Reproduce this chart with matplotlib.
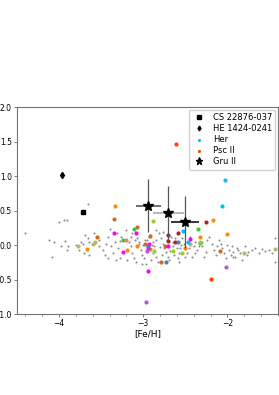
import matplotlib
matplotlib.use("Agg")
import matplotlib.pyplot as plt
from matplotlib.ticker import MultipleLocator

# reference stars
cs_feh, cs_val = [-3.71], [0.48]
he_feh, he_val = [-3.96], [1.02]

# Gru II members with errors
gru_feh = [-2.94, -2.70, -2.50]
gru_val = [0.57, 0.46, 0.33]
gru_feh_err = [0.15, 0.18, 0.165]
gru_val_err = [0.38, 0.39, 0.38]
gru_xerr_colors = ["#555555", "#aaaaaa", "#111111"]

# Her and Psc II
her_feh = [-2.03, -2.06, -2.53, -2.47]
her_val = [0.94, 0.57, 0.20, 0.04]
psc_feh = [-2.61, -2.20]
psc_val = [1.47, -0.49]

# other dwarfs (unlabelled), grouped by colour
other_groups = {
    "darkorange": ([-3.34, -2.17, -2.00, -3.67, -2.33, -3.19, -3.07, -2.92, -2.50],
                   [0.57, 0.36, 0.16, -0.06, 0.12, -0.07, -0.01, -0.06, -0.05]),
    "chocolate": ([-3.35, -3.55, -3.07, -2.92, -2.79, -2.74, -2.98, -2.09],
                  [0.38, 0.11, 0.26, 0.13, -0.25, -0.01, 0.01, -0.09]),
    "firebrick": ([-2.26, -2.70, -2.59, -2.70, -2.62],
                  [0.34, 0.15, 0.17, 0.06, 0.04]),
    "magenta": ([-3.35, -3.09, -3.24, -2.94, -2.93, -2.70, -2.94, -2.45],
                [0.18, 0.17, -0.10, -0.05, 0.02, -0.02, -0.37, 0.09]),
    "mediumorchid": ([-2.97, -2.02, -2.96],
                     [-0.83, -0.32, -0.09]),
    "limegreen": ([-3.11, -3.24, -2.35, -2.32],
                  [0.23, 0.08, 0.23, 0.03]),
    "yellowgreen": ([-2.89, -2.54, -2.87, -2.65, -2.32],
                    [0.35, -0.11, -0.09, -0.09, 0.05]),
    "darkkhaki": ([-3.78, -3.60, -3.57, -2.44, -1.80, -1.44],
                  [-0.02, 0.02, 0.05, 0.02, -0.12, -0.06]),
    "steelblue": ([-2.73, -2.59, -2.94],
                  [-0.24, 0.05, -0.01]),
    "lightcoral": ([-3.20], [0.07]),
}

# halo field stars (grey)
gray_feh = [-4.41, -4.12, -4.06, -4.09, -3.98, -3.93, -3.91, -3.90, -3.94, -4.00,
            -3.91, -3.66, -3.69, -3.66, -3.64, -3.64, -3.70, -3.58, -3.80, -3.76,
            -3.74, -3.72, -3.59, -3.53, -3.52, -3.48, -3.46, -3.44, -3.42, -3.38,
            -3.36, -3.32, -3.30, -3.28, -3.26, -3.34, -3.40, -3.31, -3.20, -3.17,
            -3.15, -3.13, -3.11, -3.09, -3.15, -3.13, -3.07, -3.05, -3.03, -3.01,
            -2.99, -2.97, -2.95, -2.93, -2.89, -2.87, -2.85, -2.83, -2.81, -2.79,
            -2.77, -2.75, -2.73, -2.71, -2.69, -2.67, -2.65, -2.63, -2.59, -2.57,
            -2.56, -2.54, -2.52, -2.50, -2.48, -2.46, -2.44, -2.42, -2.40, -2.38,
            -2.36, -2.34, -2.30, -2.28, -2.26, -2.24, -2.22, -2.18, -2.16, -2.14,
            -2.12, -2.10, -2.08, -2.06, -2.04, -2.02, -2.00, -1.98, -1.96, -1.94,
            -1.93, -1.91, -1.89, -1.87, -1.85, -1.83, -1.79, -1.77, -1.75, -1.71,
            -1.67, -1.63, -1.59, -1.55, -1.51, -1.47, -1.44, -1.43, -2.85, -2.77,
            -2.91, -3.01, -2.65, -3.19, -3.28, -2.57, -2.38, -2.30, -3.42, -1.93,
            -3.05, -2.98, -2.90, -2.85, -2.80, -2.72, -2.68, -2.62, -2.60, -2.95,
            -3.00, -2.88, -2.78, -3.10, -2.92, -2.55, -2.70]
gray_val = [0.18, 0.08, 0.05, -0.17, -0.02, 0.06, -0.07, -0.01, 0.37, 0.34,
            0.36, 0.59, 0.14, 0.10, 0.05, -0.15, -0.11, 0.02, 0.00, -0.07,
            0.05, 0.01, 0.18, 0.08, -0.02, -0.07, -0.14, 0.02, 0.12, -0.02,
            -0.12, -0.21, -0.05, 0.06, 0.12, 0.05, 0.23, 0.17, 0.22, 0.05,
            -0.02, -0.12, -0.19, -0.24, 0.12, 0.17, 0.10, 0.02, -0.07, -0.14,
            -0.19, -0.27, 0.07, 0.12, 0.05, -0.02, -0.17, -0.24, 0.17, 0.10,
            0.02, -0.05, -0.10, -0.17, -0.22, 0.12, -0.02, -0.14, -0.19, -0.12,
            -0.05, 0.10, 0.02, -0.17, -0.12, -0.05, 0.12, -0.17, -0.02, -0.12,
            -0.07, -0.02, -0.02, -0.17, -0.10, 0.07, 0.12, 0.02, -0.07, -0.14,
            -0.02, 0.07, 0.02, -0.05, -0.12, -0.19, 0.00, -0.07, -0.14, -0.02,
            -0.10, -0.17, -0.05, -0.07, -0.12, -0.22, -0.02, -0.14, -0.10, -0.07,
            -0.05, -0.12, -0.06, -0.09, -0.07, -0.12, 0.10, -0.24, 0.22, 0.19,
            -0.22, -0.27, 0.05, -0.22, -0.19, -0.24, 0.05, 0.05, -0.19, -0.17,
            0.05, 0.08, 0.00, 0.07, -0.03, 0.08, -0.08, 0.10, -0.05, -0.08,
            0.00, -0.12, -0.15, 0.07, 0.15, 0.00, 0.00]

fig = plt.figure(figsize=(2.79, 3.95), dpi=100)
ax = fig.add_axes([0.061, 0.205, 0.935, 0.524])

ax.scatter(gray_feh, gray_val, s=2.2, color="#8c8c8c", linewidths=0, zorder=1)

for col, (xs, ys) in other_groups.items():
    ax.scatter(xs, ys, s=9, color=col, linewidths=0, zorder=2)

ax.scatter(her_feh, her_val, s=9, color="deepskyblue", linewidths=0, zorder=2, label="Her")
ax.scatter(psc_feh, psc_val, s=9, color="orangered", linewidths=0, zorder=2, label="Psc II")

ax.plot(cs_feh, cs_val, "s", color="k", ms=3.2, zorder=3, label="CS 22876-037")
ax.plot(he_feh, he_val, "d", color="k", ms=3.2, zorder=3, label="HE 1424-0241")

for i in range(len(gru_feh)):
    ax.errorbar(gru_feh[i], gru_val[i], yerr=gru_val_err[i], fmt="none",
                ecolor="#555555", elinewidth=0.9, zorder=3)
    ax.errorbar(gru_feh[i], gru_val[i], xerr=gru_feh_err[i], fmt="none",
                ecolor=gru_xerr_colors[i], elinewidth=1.2, zorder=3)
ax.plot(gru_feh, gru_val, "*", color="k", ms=7, ls="none", zorder=4, label="Gru II")

ax.set_xlim(-4.5, -1.4)
ax.set_ylim(-1.0, 2.0)
ax.xaxis.set_major_locator(MultipleLocator(1))
ax.xaxis.set_minor_locator(MultipleLocator(0.2))
ax.yaxis.set_major_locator(MultipleLocator(0.5))
ax.tick_params(labelsize=5.5, length=2.5, width=0.6, color="0.4", pad=1.2)
ax.tick_params(which="minor", length=1.5, width=0.5, color="0.4")
for sp in ax.spines.values():
    sp.set_color("0.45")
    sp.set_linewidth(0.8)
ax.set_xlabel("[Fe/H]", fontsize=6.5, labelpad=0.5)

handles, labels = ax.get_legend_handles_labels()
order = ["CS 22876-037", "HE 1424-0241", "Her", "Psc II", "Gru II"]
hmap = dict(zip(labels, handles))
ax.legend([hmap[k] for k in order], order, loc="upper right", fontsize=6,
          frameon=True, borderpad=0.4, labelspacing=0.25, handletextpad=1.0,
          handlelength=1.4, markerscale=0.75, framealpha=0.9, edgecolor="0.8",
          borderaxespad=0.3)

fig.savefig("out.png", dpi=100)
